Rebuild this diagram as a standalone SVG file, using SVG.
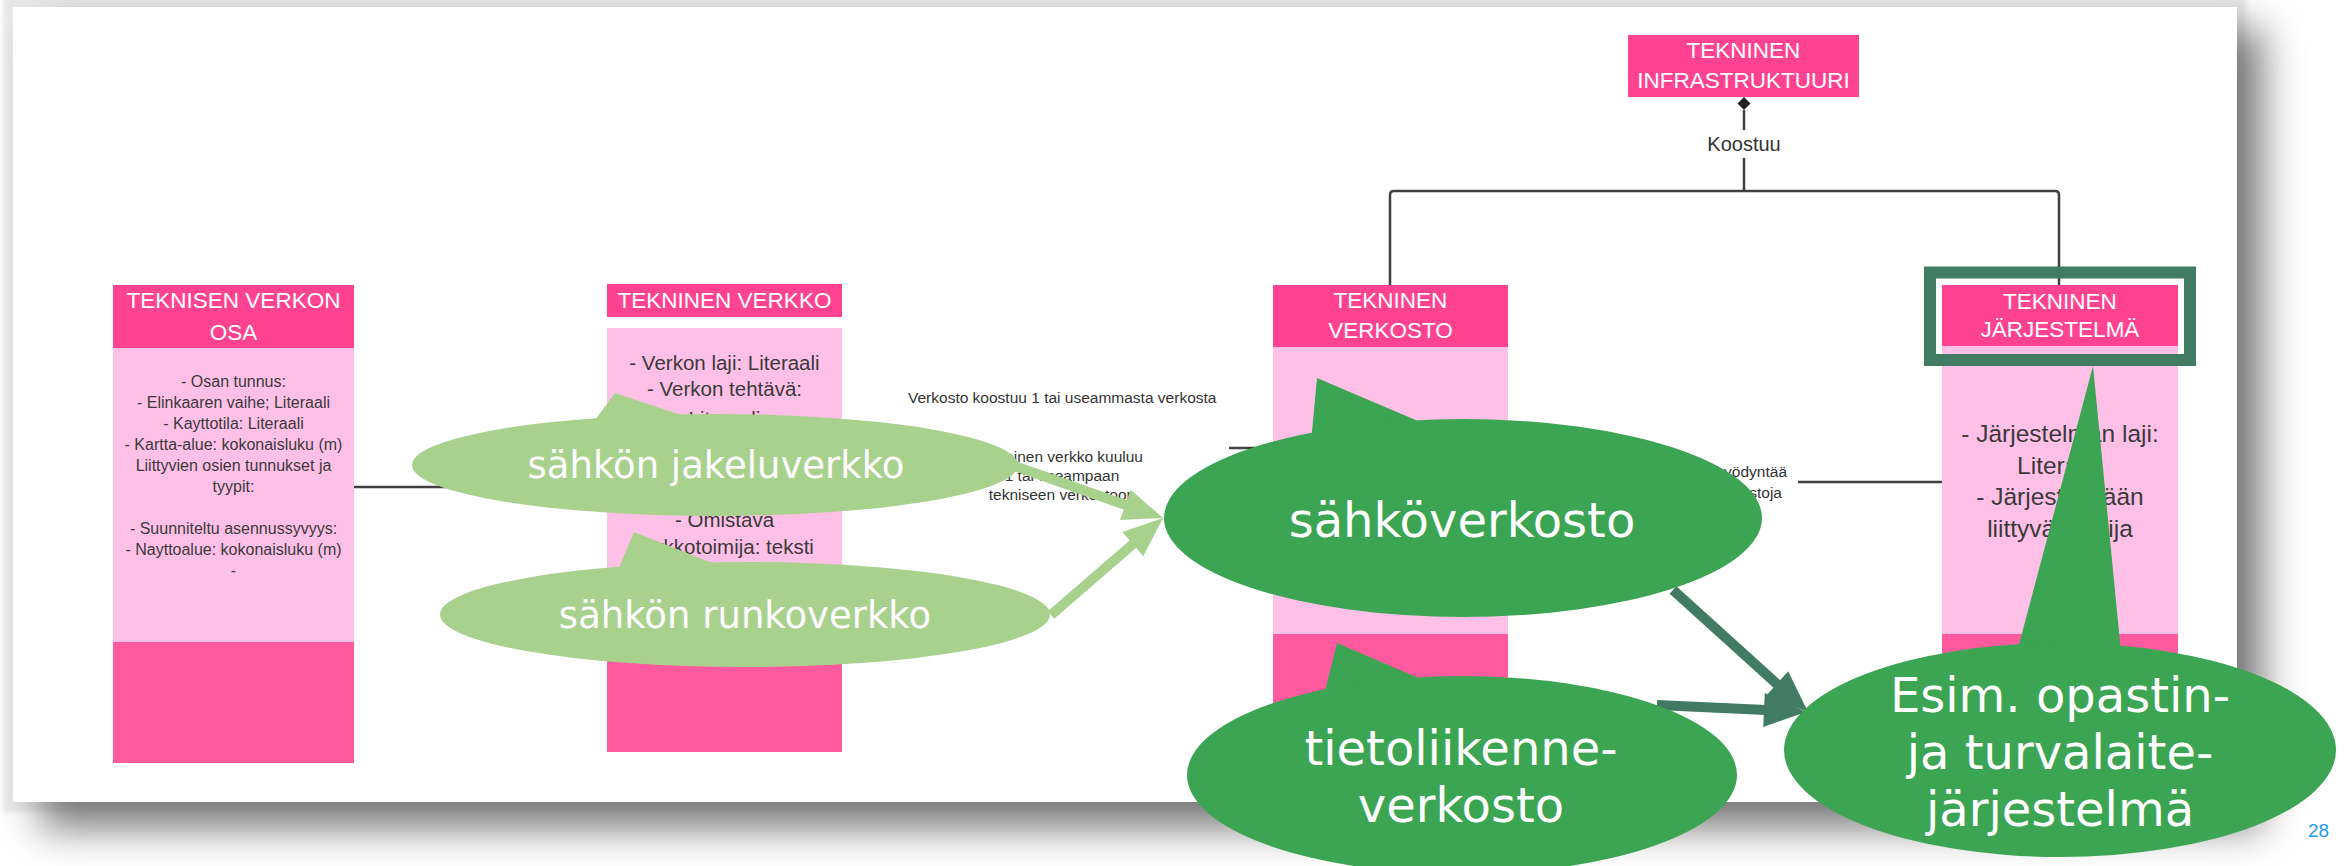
<svg xmlns="http://www.w3.org/2000/svg" width="2348" height="866" viewBox="0 0 2348 866">
  <defs>
    <filter id="edge-glow" filterUnits="userSpaceOnUse" x="-100" y="-100" width="2548" height="1066">
      <feGaussianBlur stdDeviation="2.5"/>
    </filter>
    <filter id="drop-shadow" filterUnits="userSpaceOnUse" x="-100" y="-100" width="2548" height="1066">
      <feGaussianBlur stdDeviation="20"/>
    </filter>
    <style>
      .hdr { fill: #FF4391; }
      .body { fill: #FFC0E8; }
      .foot { fill: #FF5A9E; }
      .ht { font-family: "Liberation Sans", Arial, sans-serif; font-size: 22.5px; fill: #ffffff; text-anchor: middle; }
      .bt { font-family: "Liberation Sans", Arial, sans-serif; fill: #3a3a3a; text-anchor: middle; }
      .lbl { font-family: "Liberation Sans", Arial, sans-serif; font-size: 15.5px; fill: #333333; }
      .lbl-big { font-family: "Liberation Sans", Arial, sans-serif; font-size: 20px; fill: #333333; text-anchor: middle; }
      .wire { stroke: #404040; stroke-width: 2.5; fill: none; }
      .bubble { fill: #3BA553; }
      .bubble-lt { fill: #A9D18E; }
      .bubble-text { font-family: "DejaVu Sans", Verdana, sans-serif; fill: #ffffff; text-anchor: middle; }
      .arrow-lt { stroke: #A9D18E; stroke-width: 10; fill: none; }
      .arrow-dk { stroke: #417B64; stroke-width: 10; fill: none; }
    </style>
  </defs>

  <!-- page with soft edge and drop shadow -->
  <g id="page">
    <rect width="2348" height="866" fill="#ffffff"/>
    <rect x="3" y="-6" width="2244" height="818" fill="#e9e9e9" filter="url(#edge-glow)"/>
    <rect x="40" y="28" width="2222" height="800" fill="#777777" filter="url(#drop-shadow)"/>
    <rect x="13" y="7" width="2224" height="795" fill="#ffffff"/>
    <text x="2308" y="837" font-family="Liberation Sans, Arial, sans-serif" font-size="19" fill="#1E9CF0">28</text>
  </g>

  <!-- class boxes -->
  <g id="node-tekninen-infrastruktuuri">
    <rect class="hdr" x="1628" y="35" width="231" height="62"/>
    <text class="ht" x="1743.5" y="58">TEKNINEN</text>
    <text class="ht" x="1743.5" y="88">INFRASTRUKTUURI</text>
  </g>

  <g id="node-teknisen-verkon-osa">
    <rect class="hdr" x="113" y="285" width="241" height="63"/>
    <rect class="body" x="113" y="348" width="241" height="294"/>
    <rect class="foot" x="113" y="642" width="241" height="121"/>
    <text class="ht" x="233.5" y="308">TEKNISEN VERKON</text>
    <text class="ht" x="233.5" y="340">OSA</text>
    <g class="bt" font-size="16">
      <text x="233.5" y="387">- Osan tunnus:</text>
      <text x="233.5" y="408">- Elinkaaren vaihe; Literaali</text>
      <text x="233.5" y="429">- Kayttotila: Literaali</text>
      <text x="233.5" y="450">- Kartta-alue: kokonaisluku (m)</text>
      <text x="233.5" y="471">Liittyvien osien tunnukset ja</text>
      <text x="233.5" y="492">tyypit:</text>
      <text x="233.5" y="534">- Suunniteltu asennussyvyys:</text>
      <text x="233.5" y="555">- Nayttoalue: kokonaisluku (m)</text>
      <text x="233.5" y="576">-</text>
    </g>
  </g>

  <g id="node-tekninen-verkko">
    <rect class="hdr" x="607" y="284" width="235" height="33"/>
    <rect class="body" x="607" y="328" width="235" height="304"/>
    <rect class="foot" x="607" y="632" width="235" height="120"/>
    <text class="ht" x="724.5" y="308">TEKNINEN VERKKO</text>
    <g class="bt" font-size="20.5">
      <text x="724.5" y="370">- Verkon laji: Literaali</text>
      <text x="724.5" y="396">- Verkon tehtävä:</text>
      <text x="724.5" y="426">Literaali</text>
      <text x="724.5" y="527">- Omistava</text>
      <text x="724.5" y="554">verkkotoimija: teksti</text>
    </g>
  </g>

  <g id="node-tekninen-verkosto">
    <rect class="hdr" x="1273" y="285" width="235" height="62"/>
    <rect class="body" x="1273" y="347" width="235" height="287"/>
    <rect class="foot" x="1273" y="634" width="235" height="118"/>
    <text class="ht" x="1390.5" y="308">TEKNINEN</text>
    <text class="ht" x="1390.5" y="338">VERKOSTO</text>
  </g>

  <g id="node-tekninen-jarjestelma">
    <rect class="hdr" x="1942" y="285" width="236" height="61"/>
    <rect class="body" x="1942" y="346" width="236" height="288"/>
    <rect class="foot" x="1942" y="634" width="236" height="118"/>
    <text class="ht" x="2060" y="309">TEKNINEN</text>
    <text class="ht" x="2060" y="337">JÄRJESTELMÄ</text>
    <g class="bt" font-size="24.5">
      <text x="2060" y="442">- Järjestelmän laji:</text>
      <text x="2060" y="474">Literaali</text>
      <text x="2060" y="505">- Järjestelmään</text>
      <text x="2060" y="537">liittyvä toimija</text>
    </g>
  </g>

  <!-- connectors, their labels and the callout arrows -->
  <g id="connectors">
    <path class="wire" d="M1744 110 V130 M1744 158 V191"/>
    <path class="wire" d="M1390 285 V195 Q1390 191 1394 191 H2055 Q2059 191 2059 195 V285"/>
    <polygon points="1744,97 1750.5,103.5 1744,110 1737.5,103.5" fill="#222222"/>
    <text class="lbl-big" x="1744" y="151">Koostuu</text>

    <line class="wire" x1="354" y1="487" x2="607" y2="487"/>
    <line class="wire" x1="1229" y1="448" x2="1273" y2="448"/>
    <line class="wire" x1="1798" y1="482" x2="1942" y2="482"/>

    <text class="lbl" x="908" y="403">Verkosto koostuu 1 tai useammasta verkosta</text>
    <g class="lbl" text-anchor="middle">
      <text x="1062" y="462">Tekninen verkko kuuluu</text>
      <text x="1062" y="481">1 tai useampaan</text>
      <text x="1062" y="500">tekniseen verkostoon</text>
    </g>
    <g class="lbl" text-anchor="end">
      <text x="1787" y="477">hyödyntää</text>
      <text x="1782" y="498">verkostoja</text>
    </g>

    <!-- light green arrows into sähköverkosto -->
    <line class="arrow-lt" x1="1006" y1="463" x2="1127" y2="505.5"/>
    <polygon points="1163,518 1120,520 1130.6,489.7" fill="#A9D18E"/>
    <line class="arrow-lt" x1="1051" y1="615" x2="1134.5" y2="542.7"/>
    <polygon points="1163,518 1143.3,556.3 1122.3,532.1" fill="#A9D18E"/>

    <!-- dark arrows into the system callout -->
    <line class="arrow-dk" x1="1673" y1="590" x2="1778.3" y2="685.2"/>
    <polygon points="1808,712 1765.4,696.4 1788.2,671.2" fill="#417B64"/>
    <line class="arrow-dk" x1="1657" y1="705" x2="1766" y2="710.1"/>
    <polygon points="1806,712 1763.2,727 1764.8,693" fill="#417B64"/>
  </g>

  <!-- highlight frame round the system header -->
  <g id="highlight-frame">
    <rect x="1930" y="272.5" width="260" height="87.5" fill="none" stroke="#417B64" stroke-width="12"/>
  </g>

  <!-- speech-bubble callouts -->
  <g id="callout-jakeluverkko">
    <polygon class="bubble-lt" points="615,393 592,424 702,422"/>
    <ellipse class="bubble-lt" cx="715" cy="465" rx="303" ry="51"/>
    <text class="bubble-text" x="716" y="478" font-size="37">sähkön jakeluverkko</text>
  </g>

  <g id="callout-runkoverkko">
    <polygon class="bubble-lt" points="634,532 618,570 725,568"/>
    <ellipse class="bubble-lt" cx="745" cy="614.5" rx="305" ry="52.5"/>
    <text class="bubble-text" x="745" y="628" font-size="37">sähkön runkoverkko</text>
  </g>

  <g id="callout-sahkoverkosto">
    <polygon class="bubble" points="1317,378 1311,442 1425,424"/>
    <ellipse class="bubble" cx="1463" cy="518" rx="299" ry="99"/>
    <text class="bubble-text" x="1462" y="537" font-size="48">sähköverkosto</text>
  </g>

  <g id="callout-tietoliikenneverkosto">
    <polygon class="bubble" points="1337,643 1324,695 1428,682"/>
    <ellipse class="bubble" cx="1462" cy="775" rx="275" ry="99"/>
    <text class="bubble-text" x="1461" y="765" font-size="48">tietoliikenne-</text>
    <text class="bubble-text" x="1461" y="822" font-size="48">verkosto</text>
  </g>

  <g id="callout-opastin">
    <polygon class="bubble" points="2093,366 2017,652 2121,652"/>
    <ellipse class="bubble" cx="2060" cy="750" rx="276" ry="107"/>
    <text class="bubble-text" x="2060" y="712" font-size="48">Esim. opastin-</text>
    <text class="bubble-text" x="2060" y="769" font-size="48">ja turvalaite-</text>
    <text class="bubble-text" x="2060" y="826" font-size="48">järjestelmä</text>
  </g>
</svg>
